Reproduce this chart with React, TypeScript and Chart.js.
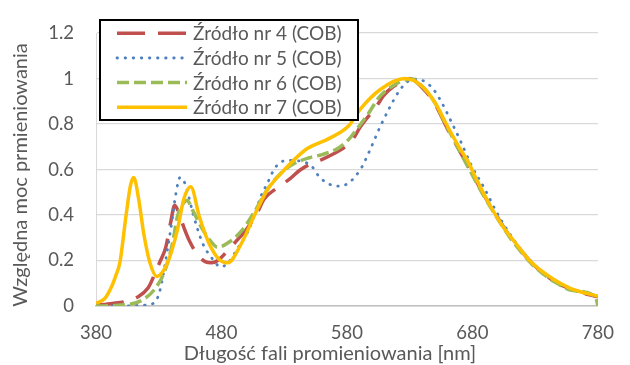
import React, { useEffect, useRef } from 'react';
import { Chart, registerables } from 'chart.js';

Chart.register(...registerables);

// ---- Text ----
const seriesNames = ['Źródło nr 4 (COB)', 'Źródło nr 5 (COB)', 'Źródło nr 6 (COB)', 'Źródło nr 7 (COB)'];
const xTitle = 'Długość fali promieniowania [nm]';
const yTitle = 'Względna moc prmieniowania';
const xTickValues = [380, 480, 580, 680, 780];
const yTickValues = [0, 0.2, 0.4, 0.6, 0.8, 1, 1.2];

// ---- Series: Źródło nr 4 ----
const wl4 = [380, 393, 405, 413, 421.6, 426, 430.6, 435.7, 439.6, 442.7, 446, 450, 455, 461, 467, 472, 477, 486, 495, 499, 509, 514, 524.5, 534.7, 542.4, 551, 560.3, 570.6, 576, 583, 591, 604, 609, 617, 626, 630, 640, 650, 660, 670, 680, 690, 700, 710, 720, 730, 745, 760, 780];
const v4 = [0.003, 0.011, 0.022, 0.039, 0.08, 0.13, 0.19, 0.26, 0.37, 0.443, 0.41, 0.346, 0.28, 0.225, 0.195, 0.19, 0.2, 0.25, 0.305, 0.33, 0.415, 0.47, 0.52, 0.56, 0.597, 0.625, 0.645, 0.673, 0.69, 0.72, 0.79, 0.882, 0.924, 0.965, 0.99, 1.0, 0.96, 0.89, 0.78, 0.68, 0.58, 0.48, 0.39, 0.305, 0.235, 0.175, 0.11, 0.07, 0.04];

// ---- Series: Źródło nr 5 ----
const wl5 = [380, 400, 415, 425.5, 430, 433, 437, 441, 443.4, 447, 450, 453, 457.6, 465, 473, 479.4, 485.6, 492.3, 501.3, 506.4, 511.6, 516.6, 523, 532, 542.4, 552.6, 557.8, 566.7, 573, 581, 591, 599, 606.6, 614.3, 620.7, 628.4, 636, 643.8, 649, 655.4, 663, 670.8, 679, 690, 699, 710.6, 720, 730, 745, 760, 780];
const v5 = [0.0, 0.0, 0.003, 0.011, 0.05, 0.12, 0.25, 0.39, 0.485, 0.565, 0.55, 0.5, 0.4, 0.276, 0.206, 0.172, 0.192, 0.248, 0.33, 0.4, 0.485, 0.54, 0.61, 0.64, 0.638, 0.61, 0.569, 0.534, 0.527, 0.54, 0.603, 0.694, 0.79, 0.875, 0.938, 0.987, 0.998, 0.98, 0.952, 0.896, 0.812, 0.722, 0.62, 0.513, 0.415, 0.31, 0.24, 0.178, 0.112, 0.07, 0.04];

// ---- Series: Źródło nr 6 ----
const wl6 = [380, 401, 416.5, 426.8, 434.5, 441, 444.7, 448.6, 452.4, 457.6, 464, 471.7, 477, 485.8, 496, 506.4, 516.6, 527, 537.2, 550, 560.3, 573, 582, 586, 596.3, 606.6, 619.4, 627, 632, 640, 650, 660, 670, 680, 690, 700, 710, 720, 730, 745, 760, 778, 780];
const v6 = [0.0, 0.004, 0.025, 0.074, 0.15, 0.276, 0.39, 0.443, 0.464, 0.415, 0.346, 0.283, 0.258, 0.28, 0.33, 0.415, 0.513, 0.582, 0.624, 0.652, 0.666, 0.694, 0.736, 0.764, 0.84, 0.924, 0.977, 0.995, 0.998, 0.965, 0.895, 0.785, 0.68, 0.575, 0.475, 0.385, 0.3, 0.23, 0.17, 0.108, 0.068, 0.042, 0.0];

// ---- Series: Źródło nr 7 ----
const wl7 = [380, 387, 392, 396, 399, 404, 407.5, 410, 414, 418, 423, 428.5, 437, 444.7, 450, 455.5, 462.5, 470, 478, 485, 496, 506.4, 516.5, 527, 547, 565.5, 581, 591, 606.6, 626, 640, 650, 660.5, 670.6, 676, 684, 694, 704, 714.5, 727, 743, 758, 780];
const v7 = [0.012, 0.033, 0.08, 0.137, 0.19, 0.4, 0.53, 0.565, 0.47, 0.32, 0.19, 0.13, 0.19, 0.33, 0.47, 0.524, 0.39, 0.276, 0.206, 0.19, 0.276, 0.4, 0.51, 0.58, 0.687, 0.736, 0.79, 0.868, 0.952, 1.0, 0.966, 0.896, 0.786, 0.687, 0.64, 0.548, 0.443, 0.352, 0.276, 0.192, 0.123, 0.078, 0.043];

const toPoints = (xs: number[], ys: number[]) => xs.map((x, i) => ({ x, y: ys[i] }));

const TEXT = '#595959';
const FONT = 'Lato';

const overlayPlugin = {
  id: 'overlay',
  afterDraw(chart: any) {
    const ctx = chart.ctx as CanvasRenderingContext2D;
    ctx.save();
    // axis titles
    ctx.fillStyle = TEXT;
    ctx.font = `20px ${FONT}`;
    ctx.textAlign = 'center';
    ctx.textBaseline = 'middle';
    ctx.fillText(xTitle, 330, 354);
    ctx.save();
    ctx.translate(21, 175);
    ctx.rotate(-Math.PI / 2);
    ctx.fillText(yTitle, 0, 0);
    ctx.restore();

    // legend box
    const bx = 100, by = 20, bw = 258, bh = 100;
    ctx.fillStyle = '#FFFFFF';
    ctx.fillRect(bx, by, bw, bh);
    ctx.strokeStyle = '#000000';
    ctx.lineWidth = 2;
    ctx.strokeRect(bx, by, bw, bh);
    const rows = [33.3, 58, 82.5, 107.3];
    chart.data.datasets.forEach((ds: any, i: number) => {
      const y = rows[i];
      ctx.save();
      ctx.strokeStyle = ds.borderColor;
      ctx.lineWidth = ds.borderWidth;
      ctx.setLineDash(ds.borderDash || []);
      ctx.lineCap = ds.borderCapStyle || 'butt';
      ctx.beginPath();
      ctx.moveTo(117, y);
      ctx.lineTo(187, y);
      ctx.stroke();
      ctx.restore();
      ctx.fillStyle = TEXT;
      ctx.font = `19px ${FONT}`;
      ctx.textAlign = 'left';
      ctx.textBaseline = 'middle';
      ctx.fillText(seriesNames[i], 193, y + 1);
    });
    ctx.restore();
  },
};

export default function App() {
  const ref = useRef<HTMLCanvasElement | null>(null);

  useEffect(() => {
    document.body.style.margin = '0';
    const canvas = ref.current!;
    const chart = new Chart(canvas, {
      type: 'line',
      data: {
        datasets: [
          {
            label: seriesNames[0],
            data: toPoints(wl4, v4),
            borderColor: '#C0504D',
            borderWidth: 3.5,
            borderDash: [28, 13],
            order: 4,
          },
          {
            label: seriesNames[1],
            data: toPoints(wl5, v5),
            borderColor: '#4F81BD',
            borderWidth: 2.8,
            borderDash: [0.5, 7.6],
            borderCapStyle: 'round',
            order: 3,
          },
          {
            label: seriesNames[2],
            data: toPoints(wl6, v6),
            borderColor: '#9BBB59',
            borderWidth: 3.5,
            borderDash: [12, 5],
            order: 2,
          },
          {
            label: seriesNames[3],
            data: toPoints(wl7, v7),
            borderColor: '#FFC000',
            borderWidth: 3.5,
            order: 1,
          },
        ] as any,
      },
      options: {
        animation: false,
        responsive: false,
        maintainAspectRatio: false,
        layout: { padding: { top: 19, right: 15, left: 0, bottom: 0 } },
        plugins: { legend: { display: false }, tooltip: { enabled: false } },
        elements: {
          point: { radius: 0 },
          line: { cubicInterpolationMode: 'monotone', fill: false },
        },
        scales: {
          x: {
            type: 'linear',
            min: 380,
            max: 780,
            afterBuildTicks: (s: any) => {
              s.ticks = xTickValues.map((v) => ({ value: v }));
            },
            afterFit: (s: any) => {
              s.height = 59;
            },
            grid: { display: false, drawTicks: false },
            border: { display: true, color: '#BFBFBF', width: 1.5 },
            ticks: {
              color: TEXT,
              font: { family: FONT, size: 18.5 },
              padding: 16,
              maxRotation: 0,
              callback: (v: any) => String(v),
            },
          },
          y: {
            type: 'linear',
            min: 0,
            max: 1.2,
            afterBuildTicks: (s: any) => {
              s.ticks = yTickValues.map((v) => ({ value: v }));
            },
            afterFit: (s: any) => {
              s.width = 96;
            },
            grid: { color: '#D9D9D9', lineWidth: 1.3, drawTicks: false },
            border: { display: true, color: '#D9D9D9', width: 1 },
            ticks: {
              color: TEXT,
              font: { family: FONT, size: 18.5 },
              padding: 22,
              callback: (v: any) => String(v),
            },
          },
        },
      } as any,
      plugins: [overlayPlugin],
    });
    return () => chart.destroy();
  }, []);

  return (
    <canvas
      ref={ref}
      width={630}
      height={365}
      style={{ display: 'block', width: 630, height: 365 }}
    />
  );
}
